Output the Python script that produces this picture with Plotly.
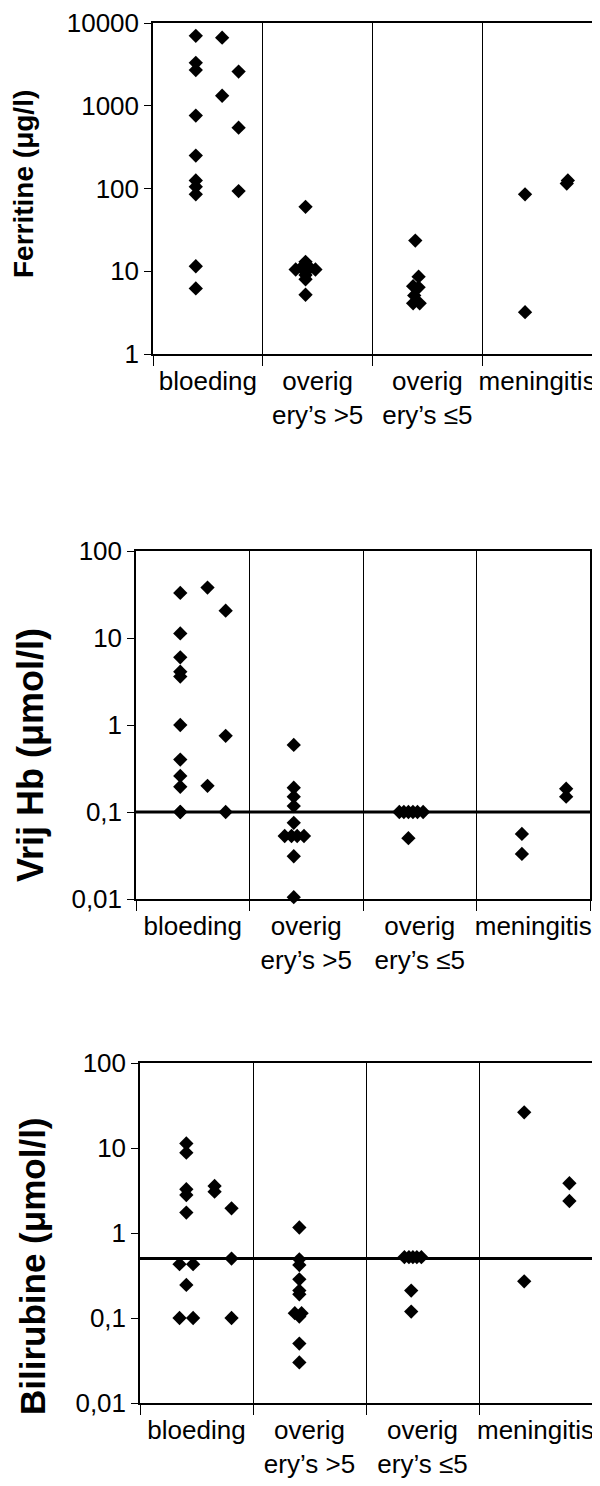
import plotly.graph_objects as go

# ---------------- data ----------------
categories = ["bloeding", "overig<br>ery’s >5", "overig<br>ery’s ≤5", "meningitis"]
cat_pos = [1, 2, 3, 4]
boundaries = [0.5, 1.5, 2.5, 3.5, 4.5]

# Panel 1: Ferritine (µg/l)
fer_x = [0.89, 0.89, 0.89, 0.89, 0.89, 0.89, 0.89, 0.89, 0.89, 0.89,
         1.13, 1.13,
         1.28, 1.28, 1.28,
         1.89, 1.89, 1.80, 1.85, 1.89, 1.93, 1.98, 1.89, 1.89, 1.89,
         2.89, 2.92, 2.87, 2.92, 2.88, 2.87, 2.93,
         3.89, 3.89, 4.27, 4.28]
fer_y = [7000, 3300, 2700, 760, 250, 125, 105, 85, 11.5, 6.2,
         6650, 1320,
         2590, 543, 93,
         60, 13, 10.5, 11, 10.5, 11, 10.5, 9, 8, 5.2,
         23.5, 8.6, 6.6, 6.4, 5.1, 4.1, 4.1,
         85, 3.2, 115, 125]

# Panel 2: Vrij Hb (µmol/l)
hb_x = [0.89, 0.89, 0.89, 0.89, 0.89, 0.89, 0.89, 0.89, 0.89, 0.89, 0.89,
        1.13, 1.13,
        1.29, 1.29, 1.29,
        1.89, 1.89, 1.89, 1.89, 1.89, 1.81, 1.87, 1.92, 1.98, 1.89, 1.89,
        2.82, 2.86, 2.90, 2.94, 2.98, 3.03, 2.90,
        3.90, 3.90, 4.29, 4.29]
hb_y = [33, 11.3, 6.0, 4.1, 3.6, 1.0, 0.40, 0.26, 0.195, 0.10, 0.10,
        38, 0.2,
        20.6, 0.75, 0.10,
        0.59, 0.19, 0.15, 0.117, 0.075, 0.053, 0.053, 0.053, 0.053, 0.031, 0.0105,
        0.1, 0.1, 0.1, 0.1, 0.1, 0.1, 0.05,
        0.056, 0.033, 0.185, 0.15]
hb_cutoff = 0.1

# Panel 3: Bilirubine (µmol/l)
bil_x = [0.91, 0.91, 0.91, 0.91, 0.91, 0.85, 0.97, 0.91, 0.85, 0.97,
         1.16, 1.16,
         1.31, 1.31, 1.31,
         1.91, 1.91, 1.91, 1.91, 1.91, 1.91, 1.87, 1.93, 1.91, 1.91, 1.91,
         2.84, 2.88, 2.915, 2.95, 2.99, 2.90, 2.90,
         3.90, 3.90, 4.30, 4.30]
bil_y = [11.3, 8.8, 3.27, 2.8, 1.74, 0.43, 0.43, 0.245, 0.1, 0.1,
         3.57, 3.06,
         1.95, 0.5, 0.1,
         1.16, 0.49, 0.42, 0.285, 0.21, 0.19, 0.114, 0.114, 0.104, 0.05, 0.030,
         0.52, 0.52, 0.52, 0.52, 0.52, 0.21, 0.119,
         26.3, 0.27, 3.85, 2.38]
bil_cutoff = 0.5

fer_ticks = [1, 10, 100, 1000, 10000]
fer_ticktext = ["1", "10", "100", "1000", "10000"]
hb_ticks = [0.01, 0.1, 1, 10, 100]
hb_ticktext = ["0,01", "0,1", "1", "10", "100"]

titles = ["Ferritine (μg/l)", "Vrij Hb (μmol/l)", "Bilirubine (μmol/l)"]

# ---------------- figure ----------------
fig = go.Figure()
marker = dict(symbol="diamond", size=11, color="black", line=dict(width=0))

fig.add_trace(go.Scatter(x=fer_x, y=fer_y, mode="markers", marker=marker,
                         xaxis="x", yaxis="y", cliponaxis=False))
fig.add_trace(go.Scatter(x=hb_x, y=hb_y, mode="markers", marker=marker,
                         xaxis="x2", yaxis="y2", cliponaxis=False))
fig.add_trace(go.Scatter(x=[boundaries[0], boundaries[-1]], y=[hb_cutoff, hb_cutoff],
                         mode="lines", line=dict(color="black", width=3),
                         xaxis="x2", yaxis="y2"))
fig.add_trace(go.Scatter(x=bil_x, y=bil_y, mode="markers", marker=marker,
                         xaxis="x3", yaxis="y3", cliponaxis=False))
fig.add_trace(go.Scatter(x=[boundaries[0], boundaries[-1]], y=[bil_cutoff, bil_cutoff],
                         mode="lines", line=dict(color="black", width=3),
                         xaxis="x3", yaxis="y3"))

# the page places the figure 8 px from the top-left corner
OFF = 8.0
W = 600.0 - OFF
H = 1486.0 - OFF


def px(v):
    return (v - OFF) / W


def py(v):
    return 1 - (v - OFF) / H


def xax(x0, x1, anchor):
    return dict(domain=[px(x0), px(x1)], anchor=anchor, range=[0.5, 4.5],
                automargin=False,
                tickmode="array", tickvals=cat_pos, ticktext=categories,
                ticks="", showgrid=False, zeroline=False, ticklabelstandoff=3,
                showline=True, linecolor="black", linewidth=1.5, mirror=True,
                tickfont=dict(size=26, color="black"),
                minor=dict(tickmode="array", tickvals=boundaries, ticks="outside",
                           ticklen=10, tickwidth=1.2, tickcolor="black",
                           showgrid=True, gridcolor="black", gridwidth=1))


def yax(ytop, ybot, anchor, rng, tv, tt):
    return dict(domain=[py(ybot), py(ytop)], anchor=anchor, type="log",
                automargin=False,
                range=rng, tickmode="array", tickvals=tv, ticktext=tt,
                ticks="outside", ticklen=7, tickwidth=1.2, tickcolor="black",
                showgrid=False, zeroline=False,
                showline=True, linecolor="black", linewidth=1.5, mirror=True,
                tickfont=dict(size=26, color="black"))


fig.update_layout(
    template="none",
    width=int(W), height=int(H),
    margin=dict(l=0, r=0, t=0, b=0, autoexpand=False),
    paper_bgcolor="white", plot_bgcolor="white",
    showlegend=False,
    font=dict(family="Liberation Sans, Arial, sans-serif", color="black"),
    xaxis=xax(153, 592, "y"),
    yaxis=yax(23, 354, "x", [0, 4], fer_ticks, fer_ticktext),
    xaxis2=xax(136, 590, "y2"),
    yaxis2=yax(551, 899, "x2", [-2, 2], hb_ticks, hb_ticktext),
    xaxis3=xax(140, 592, "y3"),
    yaxis3=yax(1063, 1403, "x3", [-2, 2], hb_ticks, hb_ticktext),
    annotations=[
        dict(text="<b>%s</b>" % titles[0], xref="paper", yref="paper",
             x=px(23), y=py(184), textangle=-90, showarrow=False,
             font=dict(size=28), xanchor="center", yanchor="middle"),
        dict(text="<b>%s</b>" % titles[1], xref="paper", yref="paper",
             x=px(30), y=py(755), textangle=-90, showarrow=False,
             font=dict(size=36), xanchor="center", yanchor="middle"),
        dict(text="<b>%s</b>" % titles[2], xref="paper", yref="paper",
             x=px(32), y=py(1266), textangle=-90, showarrow=False,
             font=dict(size=35), xanchor="center", yanchor="middle"),
    ],
)

fig.write_html("out.html")
